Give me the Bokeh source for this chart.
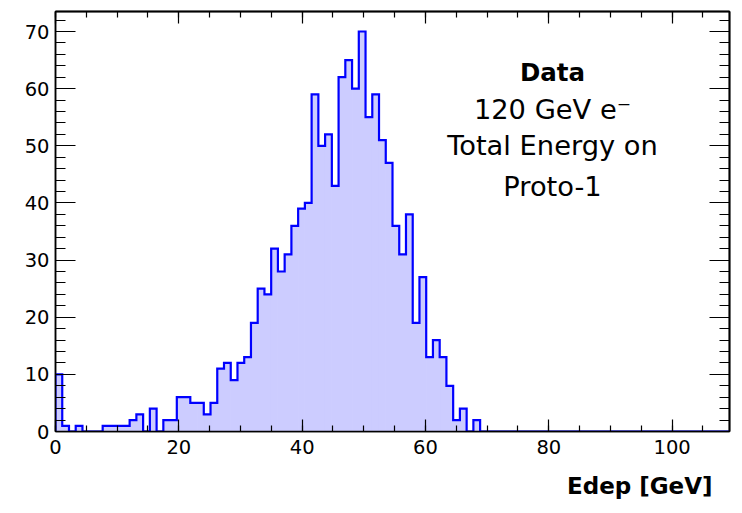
import numpy as np
from bokeh.plotting import figure
from bokeh.models import Range1d, LinearAxis, FixedTicker, Label, Title
from bokeh.embed import file_html
from bokeh.resources import INLINE

# ---- data ----
x_lo, x_hi, n_bins = 0.0, 109.3, 100
counts = [10, 1, 0, 1, 0, 0, 0, 1, 1, 1,
          1, 2, 3, 0, 4, 0, 2, 2, 6, 6,
          5, 5, 3, 5, 11, 12, 9, 12, 13, 19,
          25, 24, 32, 28, 31, 36, 39, 40, 59, 50,
          52, 43, 62, 65, 60, 70, 55, 59, 51, 47,
          36, 31, 38, 19, 27, 13, 16, 13, 8, 2,
          4, 0, 2, 0, 0, 0, 0, 0, 0, 0,
          0, 0, 0, 0, 0, 0, 0, 0, 0, 0,
          0, 0, 0, 0, 0, 0, 0, 0, 0, 0,
          0, 0, 0, 0, 0, 0, 0, 0, 0, 0]
y_max = 73.5
x_major = [0, 20, 40, 60, 80, 100]
x_minor = list(range(0, 110, 5))
y_major = [0, 10, 20, 30, 40, 50, 60, 70]
y_minor = list(range(0, 74, 2))
title_lines = ["Data", "120 GeV e\u207b", "Total Energy on", "Proto-1"]
x_title = "Edep [GeV]"

edges = np.linspace(x_lo, x_hi, n_bins + 1)
cnt = np.array(counts, dtype=float)

FONT = "DejaVu Sans"

p = figure(width=742, height=513, x_range=Range1d(x_lo, x_hi), y_range=Range1d(0, y_max),
           output_backend="svg", toolbar_location=None, x_axis_location=None, y_axis_location=None,
           min_border_left=55, min_border_right=13, min_border_top=11, min_border_bottom=82)
p.grid.visible = False
p.outline_line_color = "black"
p.outline_line_width = 1.5
p.background_fill_color = "white"
p.border_fill_color = "white"

# histogram fill (one bar per bin) + outline
p.quad(left=edges[:-1], right=edges[1:], bottom=0, top=cnt,
       fill_color="#ccccff", line_color="#ccccff", line_width=1)
xs = np.concatenate([[edges[0]], edges])
ys = np.concatenate([[0.0], cnt, [cnt[-1]]])
p.step(xs, ys, mode="after", line_color="#0000ff", line_width=2.2, line_join="miter")

def style_axis(ax, maj_len, min_len):
    ax.major_tick_in = maj_len
    ax.major_tick_out = 0
    ax.minor_tick_in = min_len
    ax.minor_tick_out = 0
    ax.axis_line_color = "black"
    ax.axis_line_width = 1.5
    ax.major_tick_line_color = "black"
    ax.minor_tick_line_color = "black"
    ax.major_tick_line_width = 1.2
    ax.minor_tick_line_width = 1.2
    ax.major_label_text_font = FONT
    ax.major_label_text_font_size = "19.5px"
    ax.major_label_text_color = "black"
    return ax

xb = style_axis(LinearAxis(ticker=FixedTicker(ticks=x_major, minor_ticks=x_minor)), 12, 6)
xb.major_label_standoff = 8
p.add_layout(xb, "below")
yl = style_axis(LinearAxis(ticker=FixedTicker(ticks=y_major, minor_ticks=y_minor)), 20, 10)
yl.major_label_standoff = 6
p.add_layout(yl, "left")

# mirrored tick marks on the top and right edges (no labels there)
for loc, mj, mn, L, S in [("above", x_major, x_minor, 12, 6), ("right", y_major, y_minor, 20, 10)]:
    a1 = style_axis(LinearAxis(ticker=FixedTicker(ticks=[], minor_ticks=mn)), 0, S)
    a1.major_label_standoff = 0
    p.add_layout(a1, loc)
    a2 = style_axis(LinearAxis(ticker=FixedTicker(ticks=[], minor_ticks=mj)), 0, L)
    a2.major_label_standoff = 0
    p.add_layout(a2, loc)

# text block
xc = 80.6
baselines_px = [72, 108.5, 145, 185.5]
frame_bottom_px, px_per_unit = 431.0, 420.0 / y_max
for i, t in enumerate(title_lines):
    yv = (frame_bottom_px - baselines_px[i]) / px_per_unit
    p.add_layout(Label(x=xc, y=yv, text=t, text_font=FONT,
                       text_font_size="24.5px" if i == 0 else "27.3px",
                       text_font_style="bold" if i == 0 else "normal",
                       text_align="center", text_baseline="alphabetic", text_color="black"))

xt = Title(text=x_title, align="right", offset=17, standoff=28,
           text_font=FONT, text_font_size="23px", text_font_style="bold", text_color="black")
p.add_layout(xt, "below")

open("out.html", "w").write(file_html(p, INLINE))
